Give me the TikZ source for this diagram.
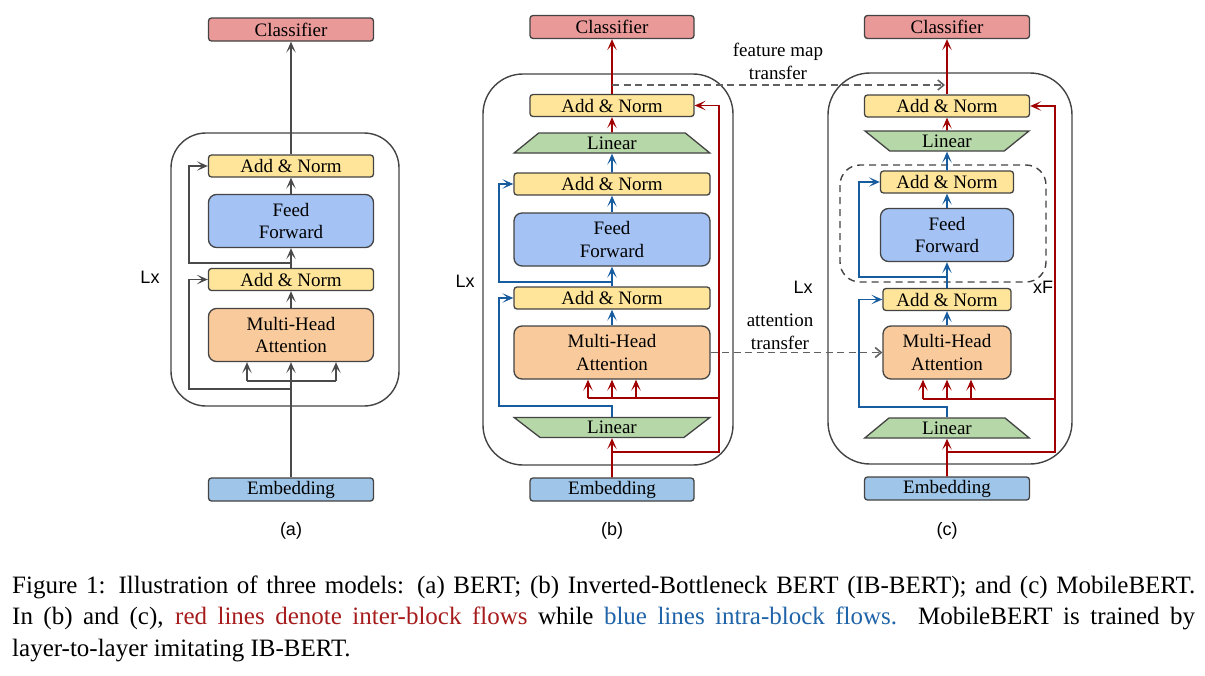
\documentclass[tikz,border=0pt]{standalone}
\usepackage{fontspec}
\setmainfont{Liberation Serif}
\newfontfamily\sanslabel{Liberation Sans}
\usetikzlibrary{arrows.meta,shapes.geometric}

\definecolor{boxline}{HTML}{434343}
\definecolor{flowgray}{HTML}{4A4A4A}
\definecolor{dashgray}{HTML}{606060}
\definecolor{flowred}{HTML}{A00000}
\definecolor{flowblue}{HTML}{175C9E}
\definecolor{clsfill}{HTML}{EA9999}
\definecolor{anfill}{HTML}{FFE599}
\definecolor{fffill}{HTML}{A4C2F4}
\definecolor{mhafill}{HTML}{F9CB9C}
\definecolor{embfill}{HTML}{9FC5E8}
\definecolor{linfill}{HTML}{B6D7A8}
\definecolor{capred}{HTML}{A61C1C}
\definecolor{capblue}{HTML}{1F63A8}

\begin{document}
\begin{tikzpicture}[x=1pt, y=-1pt,
    >={Stealth[length=11pt, width=9.5pt, inset=5.5pt]},
    box/.style={draw=boxline, line width=1.3pt, rounded corners=3pt, inner sep=0pt,
        align=center, font=\fontsize{19}{22.5}\selectfont},
    cls/.style={box, fill=clsfill, minimum height=23pt},
    addnorm/.style={box, fill=anfill, minimum height=22pt},
    ffn/.style={box, fill=fffill, minimum height=53pt, rounded corners=8pt},
    mha/.style={box, fill=mhafill, minimum height=53pt, rounded corners=8pt},
    emb/.style={box, fill=embfill, minimum height=23pt},
    linbox/.style={trapezium, trapezium stretches=true, draw=boxline, line width=1.3pt,
        fill=linfill, inner sep=0pt, minimum height=20pt, font=\fontsize{19}{22.5}\selectfont},
    blockframe/.style={draw=boxline, line width=1.4pt},
    gflow/.style={draw=flowgray, line width=1.8pt},
    rflow/.style={draw=flowred, line width=1.8pt},
    bflow/.style={draw=flowblue, line width=1.8pt},
    transfer/.style={draw=dashgray, line width=1.8pt, dash pattern=on 7pt off 4.5pt,
        -{Straight Barb[length=6pt, width=10pt, line width=1.6pt]}},
    note/.style={align=center, font=\fontsize{19}{23}\selectfont},
    paneltag/.style={font=\sanslabel\fontsize{18}{20}\selectfont},
  ]

  \useasboundingbox (0,0) rectangle (1205,675);

  % Parameters
  \def\xa{291}
  \def\xb{612}
  \def\xc{947}

  %%%%% (a) BERT
  \draw[blockframe, rounded corners=35pt] (171,133) rectangle (399,406);

  \node[cls, minimum width=165pt] (clsA) at (\xa,29.5) {Classifier};
  \node[addnorm, minimum width=165pt] (anA2) at (\xa,166) {Add \& Norm};
  \node[ffn, minimum width=165pt] (ffA) at (\xa,221) {Feed\\Forward};
  \node[addnorm, minimum width=165pt] (anA1) at (\xa,279.5) {Add \& Norm};
  \node[mha, minimum width=165pt] (mhaA) at (\xa,335) {Multi-Head\\Attention};
  \node[emb, minimum width=165pt] (embA) at (\xa,489.5) {Embedding};

  \node[paneltag] (lxA) at (150,277) {Lx};
  \node[paneltag] (tagA) at (\xa,531) {(a)};

  % Draw the flow
  \coordinate (hA1) at (247,381);
  \coordinate (hA3) at (336,381);
  \coordinate (sA1) at (\xa,389);
  \coordinate (kA1) at (189,389);
  \coordinate (sA2) at (\xa,263);
  \coordinate (kA2) at (189,263);

  \draw[gflow, ->] (embA.north) -- (mhaA.south);
  \draw[gflow] (hA1) -- (hA3);
  \foreach \h in {hA1,hA3}
    \draw[gflow, ->] (\h) -- (\h |- mhaA.south);
  \draw[gflow, ->] (sA1) -- (kA1) |- (anA1.west);
  \draw[gflow, ->] (mhaA.north) -- (anA1.south);
  \draw[gflow, ->] (anA1.north) -- (ffA.south);
  \draw[gflow, ->] (sA2) -- (kA2) |- (anA2.west);
  \draw[gflow, ->] (ffA.north) -- (anA2.south);
  \draw[gflow, ->] (anA2.north) -- (clsA.south);

  %%%%% (b) IB-BERT
  \draw[blockframe, rounded corners=40pt] (483,74) rectangle (733,465);

  \node[cls, minimum width=164pt] (clsB) at (\xb,27) {Classifier};
  \node[addnorm, minimum width=164pt] (anB3) at (\xb,105.5) {Add \& Norm};
  \node[linbox, minimum width=196pt, trapezium angle=57] (linB2) at (\xb,143) {Linear};
  \node[addnorm, minimum width=196pt] (anB2) at (\xb,184) {Add \& Norm};
  \node[ffn, minimum width=196pt] (ffB) at (\xb,239.5) {Feed\\Forward};
  \node[addnorm, minimum width=196pt] (anB1) at (\xb,298) {Add \& Norm};
  \node[mha, minimum width=196pt] (mhaB) at (\xb,352.5) {Multi-Head\\Attention};
  \node[linbox, minimum width=196pt, trapezium angle=125] (linB1) at (\xb,427.5) {Linear};
  \node[emb, minimum width=164pt] (embB) at (\xb,489.5) {Embedding};

  \node[paneltag] (lxB) at (465,281) {Lx};
  \node[paneltag] (tagB) at (\xb,531) {(b)};

  % Red lines: inter-block
  \coordinate (sB1) at (\xb,452);
  \coordinate (kB1) at (719,452);
  \coordinate (kB2) at (719,398);
  \coordinate (hB1) at (588,398);
  \coordinate (hB2) at (\xb,398);
  \coordinate (hB3) at (636,398);

  \draw[rflow, ->] (embB.north) -- (linB1.south);
  \draw[rflow, ->] (sB1) -- (kB1) |- (anB3.east);
  \draw[rflow] (kB2) -- (hB1);
  \foreach \h in {hB1,hB2,hB3}
    \draw[rflow, ->] (\h) -- (\h |- mhaB.south);
  \draw[rflow, ->] (linB2.north) -- (anB3.south);
  \draw[rflow, ->] (anB3.north) -- (clsB.south);

  % Blue lines: intra-block
  \coordinate (kB3) at (499,406);
  \coordinate (sB2) at (\xb,282);
  \coordinate (kB4) at (499,282);

  \draw[bflow, ->] (linB1.north) |- (kB3) |- (anB1.west);
  \draw[bflow, ->] (mhaB.north) -- (anB1.south);
  \draw[bflow, ->] (anB1.north) -- (ffB.south);
  \draw[bflow, ->] (sB2) -- (kB4) |- (anB2.west);
  \draw[bflow, ->] (ffB.north) -- (anB2.south);
  \draw[bflow, ->] (anB2.north) -- (linB2.south);

  %%%%% (c) MobileBERT
  \draw[blockframe, rounded corners=42pt] (828,73) rectangle (1072,464);
  \draw[blockframe, dash pattern=on 7pt off 5pt, rounded corners=20pt] (840,165) rectangle (1046,282);

  \node[cls, minimum width=165pt] (clsC) at (\xc,27) {Classifier};
  \node[addnorm, minimum width=165pt] (anC3) at (\xc,106) {Add \& Norm};
  \node[linbox, minimum width=165pt, trapezium angle=130] (linC2) at (\xc,141) {Linear};
  \node[addnorm, minimum width=133pt] (anC2) at (\xc,182) {Add \& Norm};
  \node[ffn, minimum width=133pt] (ffC) at (\xc,235) {Feed\\Forward};
  \node[addnorm, minimum width=128pt] (anC1) at (\xc,299.5) {Add \& Norm};
  \node[mha, minimum width=128pt] (mhaC) at (\xc,352.5) {Multi-Head\\Attention};
  \node[linbox, minimum width=165pt, trapezium angle=51] (linC1) at (\xc,428) {Linear};
  \node[emb, minimum width=165pt] (embC) at (\xc,488.5) {Embedding};

  \node[paneltag] (lxC) at (803,287) {Lx};
  \node[paneltag] (xfC) at (1043,287) {xF};
  \node[paneltag] (tagC) at (\xc,531) {(c)};

  % Red lines: inter-block
  \coordinate (sC1) at (\xc,452);
  \coordinate (kC1) at (1055,452);
  \coordinate (kC2) at (1055,399);
  \coordinate (hC1) at (923,399);
  \coordinate (hC2) at (\xc,399);
  \coordinate (hC3) at (971,399);

  \draw[rflow, ->] (embC.north) -- (linC1.south);
  \draw[rflow, ->] (sC1) -- (kC1) |- (anC3.east);
  \draw[rflow] (kC2) -- (hC1);
  \foreach \h in {hC1,hC2,hC3}
    \draw[rflow, ->] (\h) -- (\h |- mhaC.south);
  \draw[rflow, ->] (linC2.north) -- (anC3.south);
  \draw[rflow, ->] (anC3.north) -- (clsC.south);

  % Blue lines: intra-block
  \coordinate (kC3) at (859,407);
  \coordinate (sC2) at (\xc,277);
  \coordinate (kC4) at (859,277);

  \draw[bflow, ->] (linC1.north) |- (kC3) |- (anC1.west);
  \draw[bflow, ->] (mhaC.north) -- (anC1.south);
  \draw[bflow, ->] (anC1.north) -- (ffC.south);
  \draw[bflow, ->] (sC2) -- (kC4) |- (anC2.west);
  \draw[bflow, ->] (ffC.north) -- (anC2.south);
  \draw[bflow, ->] (anC2.north) -- (linC2.south);

  %%%%% Transfers between (b) and (c)
  \coordinate (fmB) at (\xb,85);
  \coordinate (fmC) at (945,85);
  \draw[transfer] (fmB) -- (fmC);
  \draw[transfer] (mhaB.east) -- (mhaC.west);
  \node[note] (fmNote) at (778,61) {feature map\\transfer};
  \node[note] (atNote) at (780,332) {attention\\transfer};

  %%%%% Caption
  \node[anchor=north west, text width=1183pt, align=justify, inner sep=0pt,
        font=\fontsize{25}{31.5}\selectfont] (caption) at (12,575.5)
    {Figure 1: Illustration of three models: (a) BERT; (b) Inverted-Bottleneck BERT (IB-BERT); and (c) MobileBERT.\linebreak
     In (b) and (c), \textcolor{capred}{red lines denote inter-block flows} while \textcolor{capblue}{blue lines intra-block flows.}  MobileBERT is trained by\linebreak
     layer-to-layer imitating IB-BERT.};

\end{tikzpicture}
\end{document}
